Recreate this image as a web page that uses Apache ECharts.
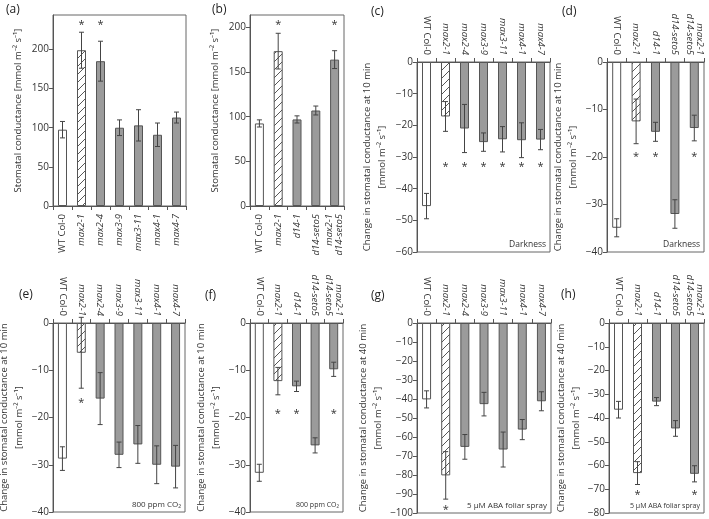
<!DOCTYPE html>
<html><head><meta charset="utf-8">
<script src="https://cdn.jsdelivr.net/npm/echarts@6/dist/echarts.min.js"></script>
<style>html,body{margin:0;padding:0;background:#fff}#c{width:709px;height:519px}</style>
</head><body><div id="c"></div>
<script>
// ---- categories ----
const catsMax = ['WT Col-0', 'max2-1', 'max2-4', 'max3-9', 'max3-11', 'max4-1', 'max4-7'];
const catsD14 = ['WT Col-0', 'max2-1', 'd14-1', 'd14-seto5', 'max2-1\nd14-seto5'];

// ---- (a) stomatal conductance, max lines ----
const aMean = [97.5, 199, 185, 100, 103, 91, 113];
const aErr = [10.5, 23, 25.5, 10, 20, 15, 7];
const aStars = [0, 1, 1, 0, 0, 0, 0];
// ---- (b) stomatal conductance, d14 lines ----
const bMean = [92.5, 173.5, 97, 107, 164];
const bErr = [4, 20, 4, 5, 10];
const bStars = [0, 1, 0, 0, 1];
// ---- (c) darkness, max lines ----
const cMean = [-45.5, -17.2, -21, -25.3, -24.4, -24.7, -24.5];
const cErr = [4, 4.7, 7.6, 2.9, 4, 5.5, 3.2];
const cStars = [0, 1, 1, 1, 1, 1, 1];
// ---- (d) darkness, d14 lines ----
const dMean = [-34.9, -12.5, -14.7, -32, -13.9];
const dErr = [1.9, 4.7, 2, 3, 2.7];
const dStars = [0, 1, 1, 0, 1];
// ---- (e) 800 ppm CO2, max lines ----
const eMean = [-28.7, -6.3, -16, -27.9, -25.7, -30, -30.4];
const eErr = [2.5, 7.5, 5.5, 2.7, 4, 4, 4.5];
const eStars = [0, 1, 0, 0, 0, 0, 0];
// ---- (f) 800 ppm CO2, d14 lines ----
const fMean = [-31.7, -12.3, -13.4, -25.9, -9.8];
const fErr = [1.8, 2.9, 1.1, 1.6, 1.5];
const fStars = [0, 1, 1, 0, 1];
// ---- (g) ABA, max lines ----
const gMean = [-40.2, -80.2, -65.2, -42.7, -66.6, -56.1, -41.2];
const gErr = [4.5, 12.5, 6.5, 6.2, 9.2, 5.3, 5];
const gStars = [0, 1, 0, 0, 0, 0, 0];
// ---- (h) ABA, d14 lines ----
const hMean = [-36.5, -63.2, -33.1, -44.4, -63.5];
const hErr = [3.5, 4.8, 1.7, 3.3, 3.4];
const hStars = [0, 1, 0, 0, 1];

// ---- tick labels ----
const ticksA = [0, 50, 100, 150, 200];
const ticksB = [0, 50, 100, 150, 200];
const ticks60 = [0, -10, -20, -30, -40, -50, -60];
const ticks40 = [0, -10, -20, -30, -40];
const ticks100 = [0, -10, -20, -30, -40, -50, -60, -70, -80, -90, -100];
const ticks80 = [0, -10, -20, -30, -40, -50, -60, -70, -80];

const nameAbs = 'Stomatal conductance [mmol m\u207B\u00B2 s\u207B\u00B9]';
const name10 = 'Change in stomatal conductance at 10 min\n[mmol m\u207B\u00B2 s\u207B\u00B9]';
const name40 = 'Change in stomatal conductance at 40 min\n[mmol m\u207B\u00B2 s\u207B\u00B9]';

const FONT = "'Open Sans', sans-serif";
const TXT = '#333';
const LINE = '#555';

// hatch pattern
const pc = document.createElement('canvas');
pc.width = 8; pc.height = 8;
const ctx = pc.getContext('2d');
ctx.fillStyle = '#fff'; ctx.fillRect(0, 0, 8, 8);
ctx.strokeStyle = '#444'; ctx.lineWidth = 0.9;
ctx.beginPath();
ctx.moveTo(0, 8); ctx.lineTo(8, 0);
ctx.moveTo(-1, 1); ctx.lineTo(1, -1);
ctx.moveTo(7, 9); ctx.lineTo(9, 7);
ctx.stroke();
const hatch = { image: pc, repeat: 'repeat' };

function styleFor(cat) {
  if (cat === 'WT Col-0') return { color: '#fff', borderColor: LINE, borderWidth: 1 };
  if (cat === 'max2-1') return { color: hatch, borderColor: LINE, borderWidth: 1 };
  return { color: '#9b9b9b', borderColor: LINE, borderWidth: 1 };
}

const panels = [
  { tag: '(a)', cats: catsMax, mean: aMean, err: aErr, stars: aStars, starY: 233.8, min: 0, max: 244, ticks: ticksA,
    grid: { left: 53, top: 15, width: 133, height: 191 }, top: false, name: nameAbs, gap: 27, lab: [6, 4] },
  { tag: '(b)', cats: catsD14, mean: bMean, err: bErr, stars: bStars, starY: 205.3, min: 0, max: 214, ticks: ticksB,
    grid: { left: 250, top: 15, width: 94, height: 191 }, top: false, name: nameAbs, gap: 27, lab: [212, 4] },
  { tag: '(c)', cats: catsMax, mean: cMean, err: cErr, stars: cStars, starY: -32.4, min: -60, max: 0, ticks: ticks60,
    grid: { left: 417, top: 62, width: 133, height: 190 }, top: true, name: name10, gap: 27, lab: [371, 6],
    note: 'Darkness', noteSize: 8.5 },
  { tag: '(d)', cats: catsD14, mean: dMean, err: dErr, stars: dStars, starY: -19.6, min: -40, max: 0, ticks: ticks40,
    grid: { left: 607, top: 62, width: 97, height: 190 }, top: true, name: name10, gap: 26, lab: [562, 6],
    note: 'Darkness', noteSize: 8.5 },
  { tag: '(e)', cats: catsMax, mean: eMean, err: eErr, stars: eStars, starY: -16.4, min: -40, max: 0, ticks: ticks40,
    grid: { left: 53, top: 323, width: 132, height: 189 }, top: true, name: name10, gap: 26, lab: [19, 289],
    note: '800 ppm CO\u2082', noteSize: 8 },
  { tag: '(f)', cats: catsD14, mean: fMean, err: fErr, stars: fStars, starY: -18.8, min: -40, max: 0, ticks: ticks40,
    grid: { left: 250, top: 323, width: 93, height: 189 }, top: true, name: name10, gap: 26, lab: [205, 290],
    note: '800 ppm CO\u2082', noteSize: 7 },
  { tag: '(g)', cats: catsMax, mean: gMean, err: gErr, stars: gStars, starY: -97.5, min: -100, max: 0, ticks: ticks100,
    grid: { left: 417, top: 323, width: 134, height: 190 }, top: true, name: name40, gap: 27, lab: [371, 290],
    note: '5 \u03BCM ABA foliar spray', noteSize: 8 },
  { tag: '(h)', cats: catsD14, mean: hMean, err: hErr, stars: hStars, starY: -71.6, min: -80, max: 0, ticks: ticks80,
    grid: { left: 609, top: 323, width: 95, height: 190 }, top: true, name: name40, gap: 21, lab: [561, 289],
    note: '5 \u03BCM ABA foliar spray', noteSize: 7 }
];

function catFmt(v) {
  return v.split('\n').map(s => s === 'WT Col-0' ? '{n|' + s + '}' : '{i|' + s + '}').join('\n');
}

const grids = [], xAxes = [], yAxes = [], series = [], graphics = [];
panels.forEach((p, k) => {
  grids.push(Object.assign({ show: true, borderColor: '#666', borderWidth: 1, backgroundColor: 'transparent',
    containLabel: false, outerBoundsMode: 'none' }, p.grid));
  xAxes.push({
    type: 'category', gridIndex: k, data: p.cats, position: p.top ? 'top' : 'bottom',
    axisLine: { show: true, onZero: false, lineStyle: { color: LINE, width: 1 } },
    axisTick: { show: true, length: 4, inside: false, lineStyle: { color: LINE } },
    axisLabel: {
      interval: 0, rotate: 90, margin: p.top ? 7 : 8, formatter: catFmt,
      rich: {
        n: { fontFamily: FONT, fontSize: 9.5, color: TXT, lineHeight: 10 },
        i: { fontFamily: FONT, fontSize: 9.5, color: TXT, fontStyle: 'italic', lineHeight: 10 }
      }
    },
    splitLine: { show: false }
  });
  yAxes.push({
    type: 'value', gridIndex: k, min: p.min, max: p.max,
    axisLine: { show: true, lineStyle: { color: LINE, width: 1 } },
    axisTick: { show: true, length: 4, customValues: p.ticks, lineStyle: { color: LINE } },
    axisLabel: { customValues: p.ticks, fontFamily: FONT, fontSize: 10, color: TXT, margin: 4,
      formatter: v => String(v).replace('-', '\u2212') },
    splitLine: { show: false },
    name: p.name, nameLocation: 'middle', nameRotate: 90, nameGap: p.gap,
    nameTextStyle: { fontFamily: FONT, fontSize: 9.5, color: TXT, lineHeight: 15 }
  });
  series.push({
    type: 'bar', xAxisIndex: k, yAxisIndex: k, barWidth: 9, silent: true, animation: false,
    data: p.mean.map((v, i) => ({ value: v, itemStyle: styleFor(p.cats[i]) }))
  });
  series.push({
    type: 'custom', xAxisIndex: k, yAxisIndex: k, silent: true, animation: false, z: 5,
    data: p.mean.map((v, i) => [i, v - p.err[i], v + p.err[i]]),
    encode: { x: 0, y: [1, 2] },
    renderItem: (params, api) => {
      const x = api.value(0);
      const lo = api.coord([x, api.value(1)]);
      const hi = api.coord([x, api.value(2)]);
      const w = 2.5, st = { stroke: '#444', lineWidth: 1 };
      return { type: 'group', children: [
        { type: 'line', shape: { x1: lo[0], y1: lo[1], x2: hi[0], y2: hi[1] }, style: st },
        { type: 'line', shape: { x1: lo[0] - w, y1: lo[1], x2: lo[0] + w, y2: lo[1] }, style: st },
        { type: 'line', shape: { x1: hi[0] - w, y1: hi[1], x2: hi[0] + w, y2: hi[1] }, style: st }
      ] };
    }
  });
  series.push({
    type: 'custom', xAxisIndex: k, yAxisIndex: k, silent: true, animation: false, z: 6,
    data: p.stars.map((s, i) => [i, p.starY, s]).filter(d => d[2]),
    encode: { x: 0, y: 1 },
    renderItem: (params, api) => {
      const c = api.coord([api.value(0), api.value(1)]);
      return { type: 'text', x: c[0], y: c[1] + 2,
        style: { text: '*', fontFamily: FONT, fontSize: 11, fill: TXT, align: 'center', verticalAlign: 'middle' } };
    }
  });
  graphics.push({ type: 'text', left: p.lab[0], top: p.lab[1],
    style: { text: p.tag, fontFamily: FONT, fontSize: 12, fill: '#222' } });
  if (p.note) {
    graphics.push({ type: 'text', x: p.grid.left + p.grid.width - 4, y: p.grid.top + p.grid.height - 7,
      style: { text: p.note, fontFamily: FONT, fontSize: p.noteSize, fill: TXT, align: 'right', verticalAlign: 'middle' } });
  }
});

const chart = echarts.init(document.getElementById('c'), null, { renderer: 'canvas' });
chart.setOption({
  animation: false,
  backgroundColor: '#fff',
  grid: grids, xAxis: xAxes, yAxis: yAxes, series: series, graphic: graphics
});
</script></body></html>
